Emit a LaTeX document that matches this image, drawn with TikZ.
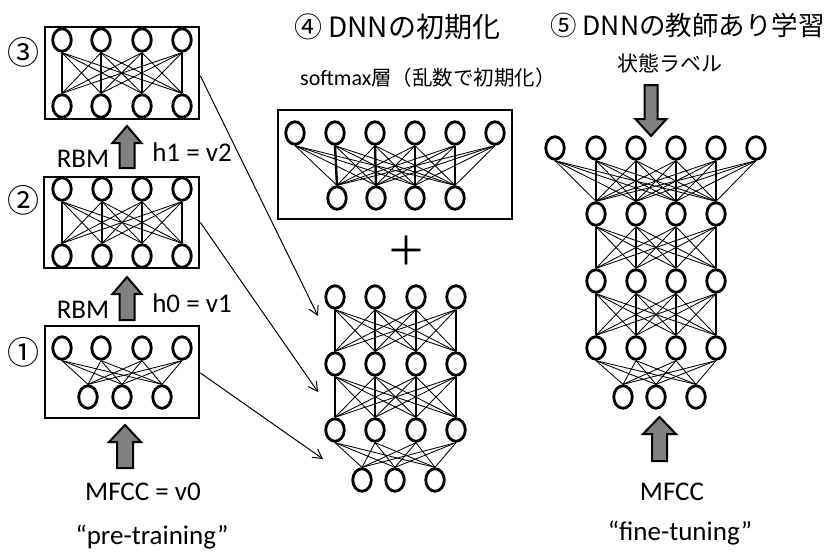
\documentclass[tikz,border=0pt]{standalone}
\usepackage{fontspec}
\setmainfont{Carlito}
\newfontfamily\jp{Noto Sans CJK JP}
\usetikzlibrary{shapes.geometric,arrows.meta}
\newcommand\nrow[3]{\foreach \xx [count=\kk] in {#3} {\node[neuron] (#1\kk) at (\xx,#2) {};}}
\newcommand\netconn[4]{\foreach \ii in {1,...,#2}{\foreach \jj in {1,...,#4}{\draw[thinline] (#1\ii.south) -- (#3\jj.north);}}}
\newcommand\netvert[3]{\foreach \ii/\jj in {#3}{\draw[thickline] (#1\ii.south) -- (#2\jj.north);}}
\newcommand\blockarr[5]{% x, y start, y tip, shaft half, head half
  \pgfmathsetmacro\hb{#3 - 17*sign(#3-#2)}
  \draw[blockarrow] (#1-#4,#2) -- (#1-#4,\hb) -- (#1-#5,\hb) -- (#1,#3) -- (#1+#5,\hb) -- (#1+#4,\hb) -- (#1+#4,#2) -- cycle;}
\begin{document}
\begin{tikzpicture}[x=1pt,y=-1pt,
  neuron/.style={ellipse,draw,line width=2.8pt,minimum width=18.5pt,minimum height=22.5pt,inner sep=0pt},
  netbox/.style={draw,line width=2.8pt,inner sep=0pt},
  thinline/.style={line width=0.85pt},
  thickline/.style={line width=2.4pt},
  blockarrow/.style={draw,line width=2pt,fill=black!50,line join=miter},
  link/.style={line width=1pt,-{Straight Barb[length=9pt,width=10pt]}},
  lbl/.style={inner sep=0pt,font=\fontsize{27}{32}\selectfont},
  num/.style={inner sep=0pt,font=\fontsize{32}{36}\selectfont\jp},
  title/.style={inner sep=0pt,anchor=west,font=\fontsize{28}{32}\selectfont\jp}]
\useasboundingbox (0,0) rectangle (830,552);

% ---------- left: pre-training ----------
\node[netbox,minimum width=154pt,minimum height=92pt] (B3) at (122,73) {};
\node[netbox,minimum width=155pt,minimum height=91pt] (B2) at (121.5,222.5) {};
\node[netbox,minimum width=154pt,minimum height=92pt] (B1) at (122,372) {};

\nrow{a}{40}{62,101,142,182}
\nrow{b}{106}{62,101,142,182}
\nrow{c}{189}{62,102,142,182}
\nrow{d}{256}{62,102,142,182}
\nrow{e}{348}{62,101,142,182}
\nrow{f}{397}{88,122,162}

\netconn{a}{4}{b}{4}\netvert{a}{b}{1/1,2/2,3/3,4/4}
\netconn{c}{4}{d}{4}\netvert{c}{d}{1/1,2/2,3/3,4/4}
\netconn{e}{4}{f}{3}

\node[num] (n3) at (23,52) {③};
\node[num] (n2) at (23,200) {②};
\node[num] (n1) at (23,352) {①};

\blockarr{127}{168}{126}{7.5}{14.5}
\blockarr{127}{320}{277}{7.5}{14.5}
\blockarr{125}{468}{425}{8}{16}
\node[lbl] (rbm2) at (83,159) {RBM};
\node[lbl] (h1) at (192,152) {h1 = v2};
\node[lbl] (rbm1) at (83,310) {RBM};
\node[lbl] (h0) at (192,303) {h0 = v1};
\node[lbl] (mfcc0) at (143,492) {MFCC = v0};
\node[lbl] (pre) at (152,537) {“pre-training”};

% ---------- middle: DNN init ----------
\node[title] (t4) at (294,27) {④ DNNの初期化};
\node[inner sep=0pt,anchor=west,font=\fontsize{22}{26}\selectfont] (smx) at (300,78) {softmax{\jp\fontsize{20.5}{24}\selectfont 層（乱数で初期化）}};
\node[netbox,minimum width=234pt,minimum height=109pt] (SB) at (395,164.5) {};
\nrow{s}{133}{295,335,375,415,455,495}
\nrow{u}{198}{337,376,415,455}
\netconn{s}{6}{u}{4}\netvert{s}{u}{2/1,3/2,4/3,5/4}

\node[inner sep=0pt,font=\fontsize{40}{44}\selectfont\jp] (plus) at (406,251) {＋};

\nrow{m}{297}{335,375,416,456}
\nrow{p}{364}{335,375,416,456}
\nrow{q}{430}{335,375,416,456}
\nrow{r}{480}{362,395,435}
\netconn{m}{4}{p}{4}\netvert{m}{p}{1/1,2/2,3/3,4/4}
\netconn{p}{4}{q}{4}\netvert{p}{q}{1/1,2/2,3/3,4/4}
\netconn{q}{4}{r}{3}

\coordinate (t3) at (318,316);
\coordinate (t2) at (318,392);
\coordinate (t1) at (323,459);
\draw[link] ([yshift=-3pt]B3.east) -- (t3);
\draw[link] (B2.east) -- (t2);
\draw[link] ([yshift=-1pt]B1.east) -- (t1);

% ---------- right: fine-tuning ----------
\node[title,font=\fontsize{26.5}{31}\selectfont\jp] (t5) at (550,25) {⑤ DNNの教師あり学習};
\node[inner sep=0pt,font=\fontsize{21}{25}\selectfont\jp] (lab) at (670,63) {状態ラベル};
\blockarr{651}{85}{136}{6.5}{15.5}

\nrow{v}{148}{555,596,636,676,716,756}
\nrow{w}{214}{596,636,676,716}
\nrow{x}{281}{596,636,676,716}
\nrow{y}{348}{596,636,676,716}
\nrow{z}{397}{623,656,696}
\netconn{v}{6}{w}{4}\netvert{v}{w}{2/1,3/2,4/3,5/4}
\netconn{w}{4}{x}{4}\netvert{w}{x}{1/1,2/2,3/3,4/4}
\netconn{x}{4}{y}{4}\netvert{x}{y}{1/1,2/2,3/3,4/4}
\netconn{y}{4}{z}{3}

\blockarr{659.5}{461}{417}{7.5}{16.5}
\node[lbl] (mfcc) at (672,492) {MFCC};
\node[lbl] (fine) at (680,533) {“fine-tuning”};
\end{tikzpicture}
\end{document}
